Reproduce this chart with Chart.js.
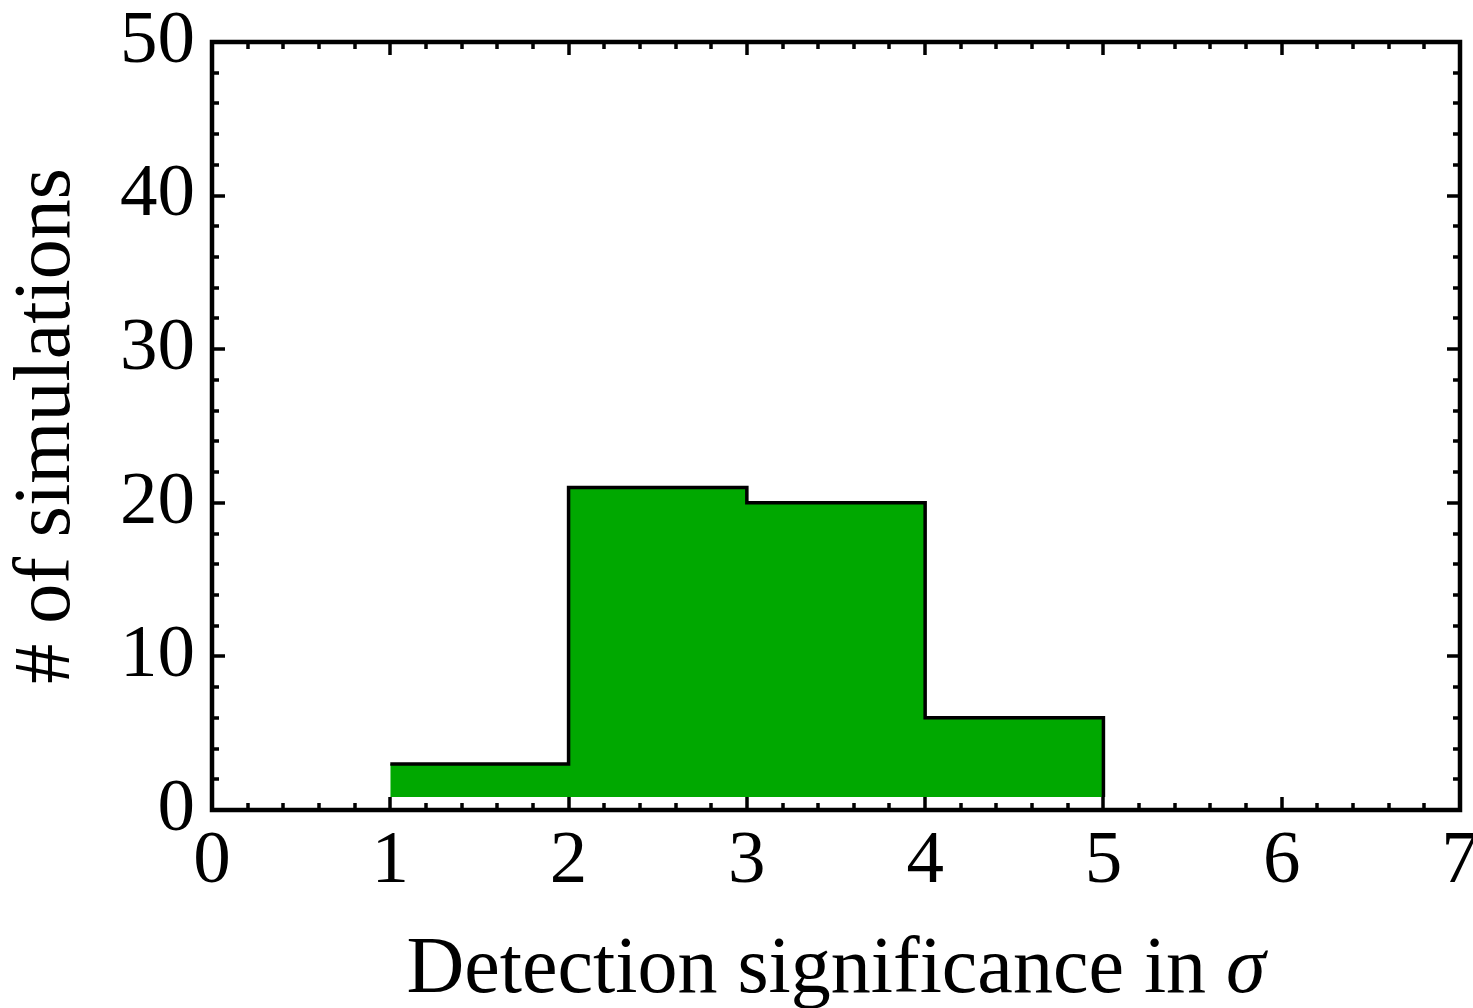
<!DOCTYPE html>
<html>
<head>
<meta charset="utf-8">
<script src="https://cdn.jsdelivr.net/npm/chart.js@4/dist/chart.umd.min.js"></script>
<style>
  html, body { margin: 0; padding: 0; background: #fff; }
  #wrap { width: 1473px; height: 1008px; }
</style>
</head>
<body>
<div id="wrap"><canvas id="histChart" width="1473" height="1008"></canvas></div>
<script>
// ── histogram data ────────────────────────────────────────
const binEdges = [1, 2, 3, 4, 5];
const counts   = [3, 21, 20, 6];
const fillBase = 0.85;          // level the filled area is drawn down to

const xTicks = [0, 1, 2, 3, 4, 5, 6, 7];
const yTicks = [0, 10, 20, 30, 40, 50];

const xTitle = ['Detection significance in ', 'σ'];
const yTitle = '# of simulations';

const SERIF = '"Liberation Serif", "Times New Roman", serif';

// step outline: one point per bin start, closing drop at the last edge
const stepPoints = counts.map((c, i) => ({ x: binEdges[i], y: c }));
stepPoints.push({ x: binEdges[binEdges.length - 1], y: fillBase });

// ── frame + inward ticks on all four sides, x title ───────
const frameTicks = {
  id: 'frameTicks',
  afterDraw(chart) {
    const { ctx, chartArea: a, scales: { x, y } } = chart;
    ctx.save();
    ctx.strokeStyle = '#000';
    ctx.lineCap = 'butt';

    ctx.lineWidth = 3.5;
    const xmin = xTicks[0], xmax = xTicks[xTicks.length - 1];
    for (let i = 0; i <= (xmax - xmin) * 5; i++) {
      const v = xmin + i * 0.2;
      const px = Math.round(x.getPixelForValue(v));
      const len = i % 5 === 0 ? 13 : 7;
      ctx.beginPath();
      ctx.moveTo(px, a.bottom); ctx.lineTo(px, a.bottom - len);
      ctx.moveTo(px, a.top);    ctx.lineTo(px, a.top + len);
      ctx.stroke();
    }
    const ymin = yTicks[0], ymax = yTicks[yTicks.length - 1];
    for (let v = ymin; v <= ymax; v += 2) {
      const py = Math.round(y.getPixelForValue(v));
      const len = v % 10 === 0 ? 13 : 7;
      ctx.beginPath();
      ctx.moveTo(a.left, py);  ctx.lineTo(a.left + len, py);
      ctx.moveTo(a.right, py); ctx.lineTo(a.right - len, py);
      ctx.stroke();
    }

    ctx.lineWidth = 4.5;
    ctx.lineJoin = 'miter';
    ctx.strokeRect(a.left, a.top, a.right - a.left, a.bottom - a.top);

    // x title with an italic sigma
    const plain = '80px ' + SERIF, ital = 'italic 80px ' + SERIF;
    ctx.fillStyle = '#000';
    ctx.textBaseline = 'alphabetic';
    ctx.textAlign = 'left';
    ctx.font = plain;
    const w1 = ctx.measureText(xTitle[0]).width;
    ctx.font = ital;
    const w2 = ctx.measureText(xTitle[1]).width;
    let tx = (a.left + a.right) / 2 - (w1 + w2) / 2;
    const ty = 992;
    ctx.font = plain;
    ctx.fillText(xTitle[0], tx, ty);
    ctx.font = ital;
    ctx.fillText(xTitle[1], tx + w1, ty);
    ctx.restore();
  }
};

new Chart(document.getElementById('histChart'), {
  type: 'line',
  data: {
    datasets: [{
      data: stepPoints,
      stepped: 'before',
      borderColor: '#000',
      borderWidth: 3.5,
      borderJoinStyle: 'miter',
      backgroundColor: '#00a800',
      fill: { value: fillBase },
      pointRadius: 0,
      tension: 0
    }]
  },
  options: {
    responsive: false,
    animation: false,
    layout: { padding: { top: 42, right: 13, left: 0, bottom: 0 } },
    plugins: { legend: { display: false }, tooltip: { enabled: false } },
    scales: {
      x: {
        type: 'linear',
        min: xTicks[0],
        max: xTicks[xTicks.length - 1],
        afterBuildTicks: s => { s.ticks = xTicks.map(v => ({ value: v })); },
        afterFit: s => { s.height = 198; s.paddingLeft = 0; s.paddingRight = 0; },
        grid: { display: false, drawTicks: false },
        border: { display: false },
        ticks: {
          color: '#000',
          padding: 7,
          maxRotation: 0,
          font: { family: SERIF, size: 75 }
        }
      },
      y: {
        min: yTicks[0],
        max: yTicks[yTicks.length - 1],
        afterBuildTicks: s => { s.ticks = yTicks.map(v => ({ value: v })); },
        afterFit: s => { s.width = 212; s.paddingTop = 0; s.paddingBottom = 0; },
        grid: { display: false, drawTicks: false },
        border: { display: false },
        ticks: {
          color: '#000',
          padding: 17,
          font: { family: SERIF, size: 75 }
        },
        title: {
          display: true,
          text: yTitle,
          color: '#000',
          padding: 0,
          font: { family: SERIF, size: 80 }
        }
      }
    }
  },
  plugins: [frameTicks]
});
</script>
</body>
</html>
